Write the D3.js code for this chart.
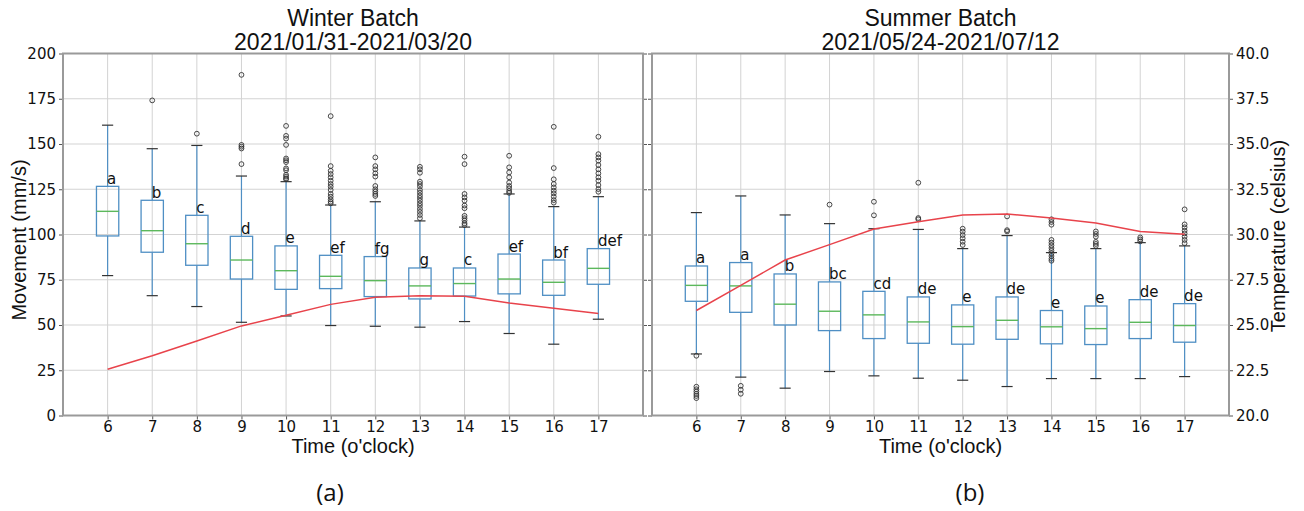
<!DOCTYPE html>
<html><head><meta charset="utf-8">
<script src="https://cdn.jsdelivr.net/npm/d3@7"></script>
<style>body{margin:0;background:#fff}</style>
</head><body><svg id="c" width="1304" height="511"></svg>
<script>
const hours = [6,7,8,9,10,11,12,13,14,15,16,17];
const yTicks = [0,25,50,75,100,125,150,175,200];
const tTicks = [20,22.5,25,27.5,30,32.5,35,37.5,40];

// Winter batch (movement mm/s)
const winterQ1  = [99.2, 90.2, 83.0, 75.4, 69.7, 70.1, 65.7, 64.4, 66.0, 67.2, 66.4, 72.5];
const winterMed = [112.8,102.1, 94.9, 85.9, 80.0, 76.9, 74.5, 71.6, 72.9, 75.4, 73.6, 81.3];
const winterQ3  = [126.6,118.9,110.6, 99.0, 93.7, 88.5, 87.8, 81.5, 81.5, 89.2, 85.9, 92.2];
const winterLo  = [77.3, 66.2, 60.2, 51.5, 55.0, 49.7, 49.3, 48.8, 51.9, 45.3, 39.4, 53.2];
const winterHi  = [160.4,147.4,149.2,132.3,129.2,116.3,118.1,107.5,104.1,122.4,115.4,120.9];
const winterOut = [
  [], [174.1], [155.7],
  [188.2,149.5,148.5,147.5,138.9],
  [160,154.5,153,149.5,142,141,140,136.5,135.5,133,132,131,130.5],
  [165.4,137.8,135.2,133.4,131.6,129.7,127.9,126.4,124.6,122.4,120.9,119.4,118.1,117.2],
  [142.6,137.8,136,133.8,132,126.8,125,123.7,122.4,121.3],
  [137.4,136,134.1,129.2,127.9,126.5,124.6,123.1,121.6,120.2,118.7,117.2,115.8,114.1,112.5,110.8,109],
  [143,138.9,122.4,120.5,118.7,116,114.5,110.3,109,107.7,106.2,105.2],
  [143.5,137.1,134.3,131.6,128.7,126.8,125.5,124,123],
  [159.5,136.7,130.5,127.9,126,124.2,122.7,120.9,119,117.6],
  [154,144.4,142.6,140.8,138.4,136,133.8,131.6,129.7,127.3,125.1,123.6]
];
const winterTemp = [22.56,23.3,24.12,24.95,25.54,26.14,26.53,26.62,26.59,26.22,25.92,25.63];
const winterLetters = ["a","b","c","d","e","ef","fg","g","c","ef","bf","def"];

// Summer batch
const summerQ1  = [63.1, 57.0, 50.0, 46.9, 42.5, 39.9, 39.4, 42.1, 39.6, 39.2, 42.5, 40.5];
const summerMed = [71.9, 71.6, 61.5, 57.6, 55.6, 51.7, 49.1, 52.6, 49.0, 48.0, 51.5, 49.7];
const summerQ3  = [82.6, 84.5, 78.2, 73.8, 68.6, 65.5, 61.1, 65.5, 58.0, 60.5, 64.0, 61.8];
const summerLo  = [34.0, 21.2, 15.1, 24.3, 21.9, 20.6, 19.5, 16.0, 20.4, 20.4, 20.4, 21.5];
const summerHi  = [112.1,121.3,110.8,106.0,103.2,102.8, 92.2, 99.4, 90.0, 92.2, 95.5, 93.7];
const summerOut = [
  [33,15.9,14.5,13.2,11.9,10.8,9.6],
  [16.4,14.2,12],
  [],
  [116.5],
  [118.1,110.6],
  [128.6,109.1,108.4],
  [103.2,101.6,99.7,97.9,96,94.2],
  [110,102.4,101.7],
  [108.4,106.9,105.4,97,95.5,94,92.5,91,89.6,88.1,86.6,85.5],
  [101.7,100.3,98.8,95.9,94.8,93.7],
  [98.4,97.3,96.2],
  [113.9,105.6,104,102.1,100.6,98.8,97,95.2]
];
const summerTemp = [25.8,27.19,28.59,29.44,30.3,30.71,31.08,31.13,30.91,30.63,30.17,30.01];
const summerLetters = ["a","a","b","bc","cd","de","e","de","e","e","de","de"];

const svg = d3.select("#c");
svg.append("rect").attr("width",1304).attr("height",511).attr("fill","#fff");

const plotTop = 53.5, plotBottom = 415.5;
const y = d3.scaleLinear().domain([0,200]).range([plotBottom, plotTop]);
const yT = d3.scaleLinear().domain([20,40]).range([plotBottom, plotTop]);

const TICKFONT = "'DejaVu Sans', sans-serif";
const LABELFONT = "'Liberation Sans', Arial, sans-serif";

function panel(x0, x1, d, opts) {
  const x = d3.scaleLinear().domain([5,18]).range([x0, x1]);
  const g = svg.append("g");
  // grid
  g.append("g").selectAll("line").data(hours).join("line")
    .attr("x1", v=>x(v)).attr("x2", v=>x(v)).attr("y1", plotTop).attr("y2", plotBottom)
    .attr("stroke","#d3d3d3").attr("stroke-width",1);
  g.append("g").selectAll("line").data(yTicks).join("line")
    .attr("x1", x0).attr("x2", x1).attr("y1", v=>y(v)).attr("y2", v=>y(v))
    .attr("stroke","#d3d3d3").attr("stroke-width",1);

  // axes
  const xa = g.append("g").attr("transform",`translate(0,${plotBottom})`)
    .call(d3.axisBottom(x).tickValues(hours).tickSize(4).tickPadding(2).tickFormat(d3.format("d")));
  const la = g.append("g").attr("transform",`translate(${x0},0)`)
    .call(d3.axisLeft(y).tickValues(yTicks).tickSize(4).tickPadding(3).tickFormat(opts.leftLabels ? d3.format("d") : ""));
  const ra = g.append("g").attr("transform",`translate(${x1},0)`)
    .call(d3.axisRight(yT).tickValues(tTicks).tickSize(4).tickPadding(3).tickFormat(opts.rightLabels ? d3.format(".1f") : ""));
  [xa,la,ra].forEach(a=>{
    a.select(".domain").remove();
    a.selectAll(".tick line").attr("stroke","#555");
    a.selectAll("text").attr("font-family",TICKFONT).attr("font-size",15).attr("fill","#111");
  });

  const bw = (x(6.25)-x(6));  // half box width
  const cw = (x(6.125)-x(6)); // half cap width
  const idx = d3.range(hours.length);
  const bx = g.append("g");
  // whiskers
  bx.selectAll("line.wl").data(idx).join("line").attr("class","wl")
    .attr("x1",i=>x(hours[i])).attr("x2",i=>x(hours[i]))
    .attr("y1",i=>y(d.q1[i])).attr("y2",i=>y(d.lo[i]))
    .attr("stroke","#4f8fc4").attr("stroke-width",1.2);
  bx.selectAll("line.wh").data(idx).join("line").attr("class","wh")
    .attr("x1",i=>x(hours[i])).attr("x2",i=>x(hours[i]))
    .attr("y1",i=>y(d.q3[i])).attr("y2",i=>y(d.hi[i]))
    .attr("stroke","#4f8fc4").attr("stroke-width",1.2);
  // caps
  ["lo","hi"].forEach(k=>{
    bx.selectAll("line.c"+k).data(idx).join("line").attr("class","c"+k)
      .attr("x1",i=>x(hours[i])-cw).attr("x2",i=>x(hours[i])+cw)
      .attr("y1",i=>y(d[k][i])).attr("y2",i=>y(d[k][i]))
      .attr("stroke","#333").attr("stroke-width",1.2);
  });
  // boxes
  bx.selectAll("rect").data(idx).join("rect")
    .attr("x",i=>x(hours[i])-bw).attr("width",2*bw)
    .attr("y",i=>y(d.q3[i])).attr("height",i=>y(d.q1[i])-y(d.q3[i]))
    .attr("fill","none").attr("stroke","#4f8fc4").attr("stroke-width",1.3);
  // medians
  bx.selectAll("line.m").data(idx).join("line").attr("class","m")
    .attr("x1",i=>x(hours[i])-bw).attr("x2",i=>x(hours[i])+bw)
    .attr("y1",i=>y(d.med[i])).attr("y2",i=>y(d.med[i]))
    .attr("stroke","#5cb85c").attr("stroke-width",1.4);
  // fliers
  const fl = [];
  d.out.forEach((arr,i)=>arr.forEach(v=>fl.push([hours[i],v])));
  bx.selectAll("circle").data(fl).join("circle")
    .attr("cx",p=>x(p[0])).attr("cy",p=>y(p[1])).attr("r",2.4)
    .attr("fill","none").attr("stroke","#333").attr("stroke-width",0.9);
  // letters
  bx.selectAll("text.lt").data(idx).join("text").attr("class","lt")
    .attr("x",i=>x(hours[i])-0.5).attr("y",i=>y(d.q3[i])-2.5)
    .attr("font-family",TICKFONT).attr("font-size",15).attr("fill","#111")
    .text(i=>d.letters[i]);
  // temperature line
  g.append("path").datum(idx)
    .attr("d", d3.line().x(i=>x(hours[i])).y(i=>yT(d.temp[i])))
    .attr("fill","none").attr("stroke","#e8434b").attr("stroke-width",1.5);
  // frame
  g.append("rect").attr("x",x0).attr("y",plotTop).attr("width",x1-x0).attr("height",plotBottom-plotTop)
    .attr("fill","none").attr("stroke","#9a9a9a").attr("stroke-width",2);

  const cx = (x0+x1)/2;
  g.append("text").attr("x",cx).attr("y",26).attr("text-anchor","middle")
    .attr("font-family",LABELFONT).attr("font-size",23).attr("fill","#111").text(opts.title1);
  g.append("text").attr("x",cx).attr("y",50).attr("text-anchor","middle")
    .attr("font-family",LABELFONT).attr("font-size",23).attr("fill","#111").text(opts.title2);
  g.append("text").attr("x",cx).attr("y",453).attr("text-anchor","middle")
    .attr("font-family",LABELFONT).attr("font-size",20).attr("fill","#111").text("Time (o'clock)");
  g.append("text").attr("x",opts.tagX).attr("y",501).attr("text-anchor","middle")
    .attr("font-family","'Open Sans', Lato, sans-serif").attr("font-size",24).attr("fill","#111").text(opts.tag);
}

panel(63, 643, {q1:winterQ1, med:winterMed, q3:winterQ3, lo:winterLo, hi:winterHi, out:winterOut, temp:winterTemp, letters:winterLetters},
  {leftLabels:true, rightLabels:false, title1:"Winter Batch", title2:"2021/01/31-2021/03/20", tag:"(a)", tagX:330});
panel(652, 1229, {q1:summerQ1, med:summerMed, q3:summerQ3, lo:summerLo, hi:summerHi, out:summerOut, temp:summerTemp, letters:summerLetters},
  {leftLabels:false, rightLabels:true, title1:"Summer Batch", title2:"2021/05/24-2021/07/12", tag:"(b)", tagX:970});

svg.append("text").attr("transform","translate(26,240) rotate(-90)").attr("text-anchor","middle")
  .attr("font-family",LABELFONT).attr("font-size",20).attr("fill","#111").text("Movement (mm/s)");
svg.append("text").attr("transform","translate(1285,236) rotate(-90)").attr("text-anchor","middle")
  .attr("font-family",LABELFONT).attr("font-size",20).attr("fill","#111").text("Temperature (celsius)");
</script></body></html>
